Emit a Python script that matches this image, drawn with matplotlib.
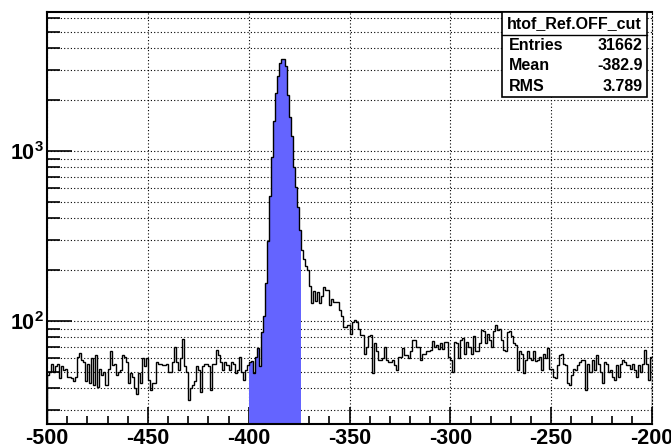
import numpy as np
import matplotlib.pyplot as plt
from matplotlib.ticker import FixedLocator, NullFormatter

plt.rcParams['font.family'] = ['Liberation Sans', 'DejaVu Sans']
plt.rcParams['font.weight'] = 'bold'
plt.rcParams['mathtext.fontset'] = 'custom'
plt.rcParams['mathtext.rm'] = 'Liberation Sans:bold'
plt.rcParams['mathtext.it'] = 'Liberation Sans:bold'
plt.rcParams['mathtext.bf'] = 'Liberation Sans:bold'

# htof_Ref.OFF, 1 ns bins from -500 to -200
x_lo, x_hi = -500, -200
counts_bg_left = [  # -500 .. -451
    48, 50, 56, 50, 54, 56, 46, 54, 51, 52, 47, 47, 46, 44, 47, 61, 65, 59, 57, 44,
    56, 43, 60, 42, 63, 41, 52, 48, 50, 42, 52, 66, 55, 56, 48, 50, 51, 63, 61, 57,
    43, 49, 47, 40, 37, 49, 43, 60, 54, 60,
]
counts_bg_left2 = [  # -450 .. -401
    45, 39, 43, 43, 57, 56, 56, 55, 55, 56, 50, 50, 57, 70, 57, 51, 60, 78, 54, 50,
    34, 40, 42, 44, 54, 51, 38, 54, 56, 56, 54, 39, 56, 56, 67, 63, 57, 51, 57, 55,
    51, 57, 56, 49, 51, 61, 50, 45, 51, 55,
]
counts_peak = [  # -400 .. -375  (cut window)
    57, 58, 49, 61, 69, 54, 86, 106, 166, 295, 545, 920, 1500, 2200, 2760, 3270,
    3450, 3450, 3150, 2130, 1585, 1220, 805, 614, 469, 341,
]
counts_tail = [  # -374 .. -317
    260, 230, 210, 200, 160, 128, 150, 130, 148, 127, 140, 158, 151, 151, 124, 135,
    129, 129, 129, 116, 106, 92, 92, 94, 84, 99, 101, 98, 90, 82, 82, 64, 70, 81,
    82, 49, 74, 66, 59, 59, 60, 70, 59, 57, 57, 59, 55, 51, 61, 61, 69, 63, 63, 60,
    66, 77, 77, 70,
]
counts_bg_right = [  # -316 .. -259
    70, 59, 64, 64, 66, 66, 67, 76, 70, 72, 68, 74, 68, 75, 75, 61, 59, 50, 75, 74,
    60, 77, 79, 64, 75, 70, 64, 81, 66, 66, 74, 88, 87, 74, 84, 77, 70, 87, 94, 88,
    89, 77, 67, 66, 86, 87, 81, 74, 72, 51, 66, 64, 49, 59, 66, 60, 59, 66,
]
counts_bg_right2 = [  # -258 .. -201
    58, 59, 61, 51, 64, 60, 69, 52, 52, 47, 46, 55, 63, 64, 56, 55, 43, 42, 48, 52,
    51, 55, 57, 59, 59, 39, 56, 50, 59, 51, 63, 56, 50, 43, 57, 56, 50, 51, 47, 45,
    55, 47, 56, 59, 57, 55, 55, 52, 56, 51, 47, 55, 50, 56, 67, 56, 45, 61,
]
cut_lo, cut_hi = -400, -374

counts = np.array(counts_bg_left + counts_bg_left2 + counts_peak + counts_tail
                  + counts_bg_right + counts_bg_right2, dtype=float)
edges = np.arange(x_lo, x_lo + len(counts) + 1)
in_cut = (edges[:-1] >= cut_lo) & (edges[:-1] < cut_hi)
cut_edges = np.arange(cut_lo, cut_hi + 1)

fig = plt.figure(figsize=(6.71, 4.45), dpi=100)
ax = fig.add_axes([47 / 671, 1 - 424 / 445, 605 / 671, 412 / 445])

ax.stairs(counts[in_cut], cut_edges, fill=True, baseline=1, color='#6464ff', zorder=2)
ax.stairs(counts, edges, color='black', lw=1.0, zorder=3)

ax.set_yscale('log')
ax.set_xlim(x_lo, x_hi)
ax.set_ylim(24.7, 6550)

major_x = np.arange(-500, -199, 50)
ax.xaxis.set_major_locator(FixedLocator(major_x))
ax.xaxis.set_minor_locator(FixedLocator(np.arange(-500, -199, 10)))
ax.set_xticklabels([str(v) for v in major_x])
ax.yaxis.set_major_locator(FixedLocator([100, 1000]))
ax.set_yticklabels(['$10^{2}$', '$10^{3}$'])
ymin_ticks = [m * 10 ** e for e in (1, 2, 3) for m in range(2, 10)]
ax.yaxis.set_minor_locator(FixedLocator(ymin_ticks))
ax.yaxis.set_minor_formatter(NullFormatter())

ax.tick_params(axis='both', which='both', direction='in', top=False, right=False,
               labelsize=15.5, width=1.2)
ax.tick_params(axis='x', which='major', length=12, pad=3)
ax.tick_params(axis='x', which='minor', length=6)
ax.tick_params(axis='y', which='major', length=18, pad=2)
ax.tick_params(axis='y', which='minor', length=9)
for lbl in ax.get_xticklabels() + ax.get_yticklabels():
    lbl.set_fontweight('bold')

ax.grid(True, which='major', axis='x', color='black', ls=(0, (1, 2)), lw=0.8, zorder=1)
ax.grid(True, which='both', axis='y', color='black', ls=(0, (1, 2)), lw=0.8, zorder=1)
ax.set_axisbelow(True)

for side in ('left', 'bottom', 'top'):
    ax.spines[side].set_linewidth(1.5)
ax.spines['right'].set_linestyle((0, (1, 2)))
ax.spines['right'].set_linewidth(0.8)

# stats box
bx0, bx1 = 501.7 / 671, 646.7 / 671
by_top, by_bot, by_sep = 1 - 12 / 445, 1 - 96.7 / 445, 1 - 35 / 445
fig.patches.append(plt.Rectangle((bx0, by_bot), bx1 - bx0, by_top - by_bot,
                                 transform=fig.transFigure, fc='white', ec='black', lw=1.2))
fig.add_artist(plt.Line2D([bx0, bx1], [by_sep, by_sep], transform=fig.transFigure,
                          color='black', lw=1.0))
fig.text((bx0 + bx1) / 2, (by_top + by_sep) / 2, 'htof_Ref.OFF_cut', ha='center',
         va='center', fontsize=11.5, fontweight='bold')
stat_names = ['Entries', 'Mean', 'RMS']
stat_vals = ['31662', '-382.9', '3.789']
row_h = (by_sep - by_bot) / 3
for i, (n, v) in enumerate(zip(stat_names, stat_vals)):
    yy = by_sep - row_h * (i + 0.5)
    fig.text(bx0 + 7 / 671, yy, n, ha='left', va='center', fontsize=11.5, fontweight='bold')
    fig.text(bx1 - 4 / 671, yy, v, ha='right', va='center', fontsize=11.5, fontweight='bold')

fig.savefig('out.png', dpi=100)
